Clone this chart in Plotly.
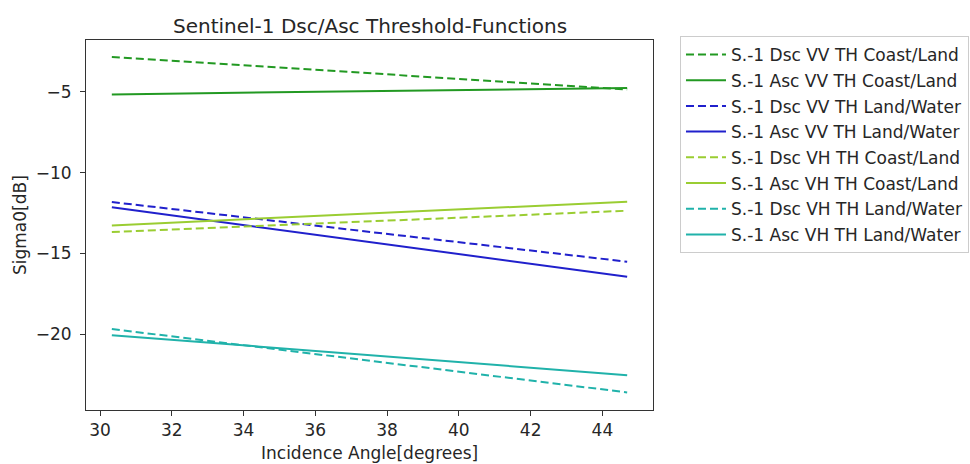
import plotly.graph_objects as go

# Incidence angle range covered by each threshold function (degrees)
angle = [30.33, 44.69]

# Threshold values (dB) at the near- and far-range ends
dsc_vv_coast = [-2.83, -4.85]
asc_vv_coast = [-5.15, -4.75]
dsc_vv_water = [-11.82, -15.52]
asc_vv_water = [-12.15, -16.45]
dsc_vh_coast = [-13.68, -12.36]
asc_vh_coast = [-13.27, -11.80]
dsc_vh_water = [-19.69, -23.62]
asc_vh_water = [-20.07, -22.55]

series_names = [
    "S.-1 Dsc VV TH Coast/Land",
    "S.-1 Asc VV TH Coast/Land",
    "S.-1 Dsc VV TH Land/Water",
    "S.-1 Asc VV TH Land/Water",
    "S.-1 Dsc VH TH Coast/Land",
    "S.-1 Asc VH TH Coast/Land",
    "S.-1 Dsc VH TH Land/Water",
    "S.-1 Asc VH TH Land/Water",
]
series_values = [
    dsc_vv_coast, asc_vv_coast,
    dsc_vv_water, asc_vv_water,
    dsc_vh_coast, asc_vh_coast,
    dsc_vh_water, asc_vh_water,
]
colors = ["#229922", "#229922", "#2020cc", "#2020cc",
          "#9acd32", "#9acd32", "#20b2aa", "#20b2aa"]
dashes = ["8px,4px", "solid"] * 4

x_ticks = [30, 32, 34, 36, 38, 40, 42, 44]
y_ticks = [-5, -10, -15, -20]

FONT = "DejaVu Sans"
TXT = "#262626"

fig = go.Figure()
for i, (name, vals) in enumerate(zip(series_names, series_values)):
    fig.add_trace(go.Scatter(
        x=angle, y=vals, mode="lines", name=name,
        legendgroup=f"g{i}",
        line=dict(color=colors[i], width=2, dash=dashes[i]),
    ))

fig.update_layout(
    width=970, height=464,
    margin=dict(l=86, r=317, t=40, b=54, autoexpand=False),
    paper_bgcolor="white", plot_bgcolor="white",
    font=dict(family=FONT, size=17, color=TXT),
    showlegend=True,
    legend=dict(
        x=1.0476, y=1.011, xanchor="left", yanchor="top",
        bgcolor="white", bordercolor="#cccccc", borderwidth=1,
        font=dict(family=FONT, size=17, color=TXT),
        tracegroupgap=0.6, itemwidth=40,
    ),
    xaxis=dict(
        range=[29.61, 45.41], tickvals=x_ticks,
        showline=True, linecolor="#333333", linewidth=1, mirror=True,
        ticks="outside", ticklen=5, tickcolor="#333333",
        showgrid=False, zeroline=False,
        tickfont=dict(size=17), ticklabelstandoff=0,
    ),
    yaxis=dict(
        range=[-24.71, -1.78], tickvals=y_ticks,
        showline=True, linecolor="#333333", linewidth=1, mirror=True,
        ticks="outside", ticklen=5, tickcolor="#333333",
        showgrid=False, zeroline=False,
        tickfont=dict(size=17), ticklabelstandoff=5,
    ),
    annotations=[
        dict(text="Sentinel-1 Dsc/Asc Threshold-Functions",
             xref="paper", yref="paper", x=0.5, y=1.0, yshift=0,
             xanchor="center", yanchor="bottom", showarrow=False,
             font=dict(size=20, color=TXT)),
        dict(text="Incidence Angle[degrees]",
             xref="paper", yref="paper", x=0.5, y=0, yshift=-31,
             xanchor="center", yanchor="top", showarrow=False,
             font=dict(size=17, color=TXT)),
        dict(text="Sigma0[dB]", textangle=-90,
             xref="paper", yref="paper", x=0, y=0.5, xshift=-54,
             xanchor="right", yanchor="middle", showarrow=False,
             font=dict(size=17, color=TXT)),
    ],
)

fig.write_html("out.html")
